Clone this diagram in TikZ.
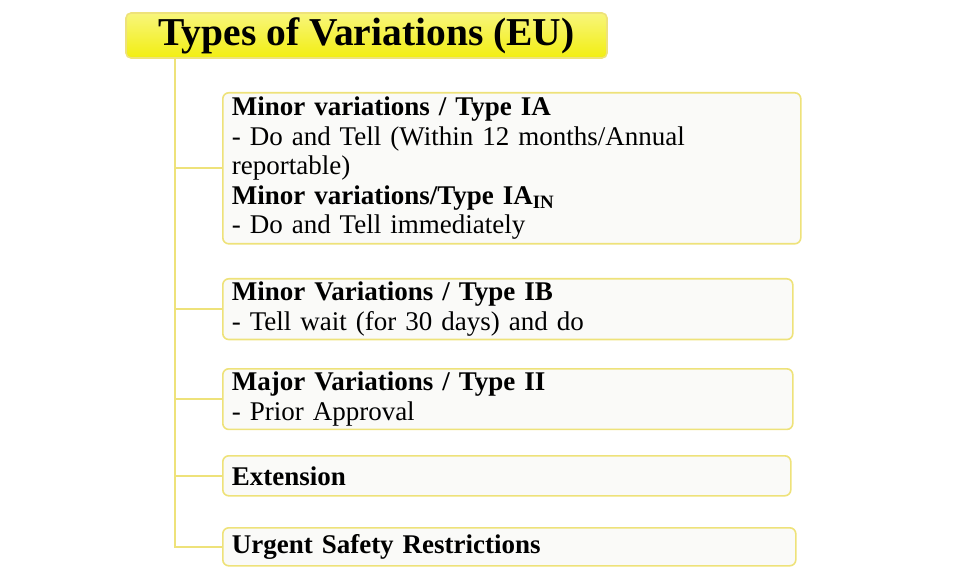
\documentclass[tikz,border=0pt]{standalone}
\usepackage{fontspec}
\setmainfont{Liberation Serif}
\usetikzlibrary{positioning}
\definecolor{edgeyellow}{HTML}{EEE27A}
\definecolor{titleyellow}{HTML}{F2EE10}
\definecolor{boxgray}{HTML}{FAFAF8}
\tikzset{
  varbox/.style={draw=edgeyellow,line width=1.6pt,fill=boxgray,rounded corners=6pt,
    anchor=north west,align=left,inner xsep=9pt,font=\fontsize{27}{29.5}\selectfont},
  branch/.style={draw=edgeyellow,line width=1.6pt}
}

\begin{document}
\begin{tikzpicture}[x=1pt,y=-1pt]
 \useasboundingbox (0,0) rectangle (980,577);
 \node[draw=edgeyellow,line width=1.6pt,rounded corners=5pt,top color=titleyellow!55,bottom color=titleyellow,
   minimum width=481pt,minimum height=45pt,font=\fontsize{39.5}{42}\selectfont\bfseries] (title) at (366.5,35.5) {Types of Variations (EU)};
 \coordinate (trunk) at (175,58);
 \node[varbox,minimum width=578pt,minimum height=151pt,text width=560pt] (typeIA) at (222,92)
   {\textbf{Minor variations / Type IA}\\- Do and Tell (Within 12 months/Annual\\reportable)\\\textbf{Minor variations/Type IA\textsubscript{IN}}\\- Do and Tell immediately};
 \node[varbox,minimum width=570pt,minimum height=58pt,text width=552pt] (typeIB) at (222,278)
   {\textbf{Minor Variations / Type IB}\\- Tell wait (for 30 days) and do};
 \node[varbox,minimum width=570pt,minimum height=54pt,text width=552pt] (typeII) at (222,368)
   {\textbf{Major Variations / Type II}\\- Prior Approval};
 \node[varbox,minimum width=568pt,minimum height=40pt,text width=550pt] (extension) at (222,455)
   {\textbf{Extension}};
 \node[varbox,minimum width=573pt,minimum height=38pt,text width=555pt] (urgent) at (222,527)
   {\textbf{Urgent Safety Restrictions}};
 \foreach \b in {typeIA,typeIB,typeII,extension,urgent}
   \draw[branch] (trunk) |- (\b.west);
\end{tikzpicture}
\end{document}
